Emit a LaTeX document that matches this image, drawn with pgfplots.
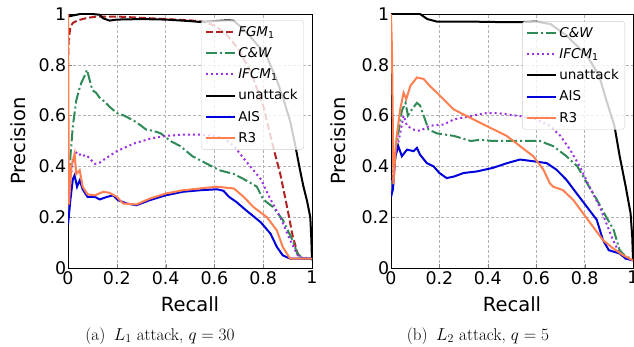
\documentclass[border=0pt]{standalone}
\usepackage{fontspec}
\setmainfont{DejaVu Sans}
\newfontfamily\capfont{Latin Modern Roman}
\usepackage{pgfplots}
\pgfplotsset{compat=1.18}
\definecolor{cfgm}{HTML}{B22222}
\definecolor{ccw}{HTML}{2E8B57}
\definecolor{cifcm}{HTML}{9B30E6}
\definecolor{cais}{HTML}{0000DD}
\definecolor{cr3}{HTML}{FF7F50}
\pgfplotsset{
  myax/.style={
    scale only axis, height=254pt,
    xmin=0,xmax=1,ymin=0,ymax=1,
    xtick={0,0.2,0.4,0.6,0.8,1}, ytick={0,0.2,0.4,0.6,0.8,1},
    xticklabels={0,0.2,0.4,0.6,0.8,1}, yticklabels={0,0.2,0.4,0.6,0.8,1},
    tick align=inside, tick pos=left,
    major tick length=4pt,
    /pgf/number format/assume math mode=true,
    ticklabel style={font=\fontsize{17.4}{18}\selectfont},
    yticklabel style={inner xsep=1.5pt},
    xticklabel style={inner ysep=3pt},
    grid=major,
    major grid style={gray!60, dash pattern=on 3pt off 2pt, line width=0.5pt},
    axis line style={line width=0.7pt},
    label style={font=\fontsize{19.5}{20}\selectfont},
    xlabel=Recall, ylabel=Precision,
    xlabel style={at={(axis description cs:0.5,-0.144)}, anchor=center},
    legend style={anchor=north east, draw=black!20, rounded corners=3pt,
      fill=white, fill opacity=0.8, text opacity=1, draw opacity=1,
      font=\fontsize{13.5}{15}\selectfont, row sep=5.6pt, inner xsep=4pt, inner ysep=4pt,
      cells={anchor=west}},
    legend image code/.code={\draw[##1] (0pt,0pt) -- (29pt,0pt);},
    legend cell align=left,
  },
  lfgm/.style={cfgm, line width=2pt, dash pattern=on 7pt off 3pt},
  lcw/.style={ccw, line width=2pt, dash pattern=on 11pt off 3pt on 2pt off 3pt},
  lifcm/.style={cifcm, line width=2pt, dash pattern=on 2pt off 3pt},
  lun/.style={black, line width=2pt},
  lais/.style={cais, line width=2pt},
  lr3/.style={cr3, line width=2pt},
}
\begin{document}
\begin{tikzpicture}
\useasboundingbox (0,0) rectangle (634pt,347pt);
\begin{axis}[myax, at={(68pt,79pt)}, anchor=south west, width=244pt,
  ylabel style={at={(axis description cs:-0.205,0.5)}, anchor=center},
  legend style={at={(axis description cs:0.967,0.976)}}]
\addplot[lfgm] coordinates {(0,0.8)(0.003,0.9)(0.01,0.95)(0.02,0.965)(0.04,0.975)(0.08,0.985)(0.12,0.99)(0.2,0.99)(0.3,0.985)(0.4,0.98)(0.5,0.975)(0.55,0.97)(0.6,0.955)(0.65,0.92)(0.7,0.86)(0.75,0.77)(0.8,0.64)(0.84,0.48)(0.87,0.37)(0.9,0.23)(0.92,0.13)(0.94,0.06)(0.955,0.037)(1,0.037)};
\addlegendentry{\textit{FGM}\textsubscript{1}}
\addplot[lcw] coordinates {(0,0.2)(0.005,0.35)(0.01,0.44)(0.02,0.56)(0.034,0.66)(0.045,0.70)(0.055,0.73)(0.065,0.75)(0.078,0.78)(0.086,0.75)(0.1,0.70)(0.115,0.69)(0.13,0.67)(0.15,0.655)(0.17,0.635)(0.2,0.61)(0.23,0.60)(0.27,0.58)(0.3,0.56)(0.32,0.545)(0.35,0.54)(0.38,0.53)(0.42,0.50)(0.46,0.48)(0.51,0.44)(0.57,0.41)(0.62,0.385)(0.68,0.37)(0.73,0.345)(0.774,0.32)(0.80,0.27)(0.84,0.24)(0.88,0.19)(0.92,0.11)(0.94,0.056)(0.966,0.037)(1,0.037)};
\addlegendentry{\textit{C\&W}}
\addplot[lifcm] coordinates {(0,0.2)(0.01,0.35)(0.02,0.42)(0.027,0.45)(0.04,0.457)(0.055,0.44)(0.075,0.445)(0.09,0.43)(0.11,0.41)(0.13,0.415)(0.16,0.435)(0.2,0.46)(0.27,0.49)(0.34,0.51)(0.40,0.52)(0.47,0.525)(0.54,0.525)(0.6,0.52)(0.64,0.51)(0.68,0.48)(0.73,0.42)(0.79,0.35)(0.83,0.27)(0.87,0.2)(0.91,0.11)(0.945,0.043)(1,0.037)};
\addlegendentry{\textit{IFCM}\textsubscript{1}}
\addplot[lun] coordinates {(0,0.99)(0.05,1.0)(0.1,1.0)(0.13,0.997)(0.144,0.983)(0.17,0.974)(0.2,0.978)(0.3,0.98)(0.4,0.978)(0.5,0.972)(0.55,0.968)(0.6,0.972)(0.65,0.975)(0.678,0.974)(0.72,0.94)(0.76,0.897)(0.815,0.832)(0.856,0.74)(0.884,0.661)(0.91,0.58)(0.93,0.49)(0.95,0.39)(0.965,0.32)(0.979,0.267)(0.993,0.2)(0.997,0.12)(1.0,0.03)};
\addlegendentry{unattack}
\addplot[lais] coordinates {(0,0.17)(0.01,0.27)(0.02,0.35)(0.027,0.365)(0.037,0.32)(0.048,0.345)(0.06,0.31)(0.08,0.28)(0.11,0.28)(0.13,0.27)(0.16,0.28)(0.185,0.286)(0.205,0.267)(0.24,0.254)(0.28,0.247)(0.335,0.267)(0.40,0.286)(0.47,0.30)(0.54,0.306)(0.61,0.31)(0.637,0.304)(0.66,0.28)(0.69,0.26)(0.73,0.227)(0.79,0.18)(0.83,0.135)(0.856,0.083)(0.88,0.05)(0.91,0.037)(1,0.037)};
\addlegendentry{AIS}
\addplot[lr3] coordinates {(0,1.0)(0.002,0.6)(0.004,0.25)(0.014,0.40)(0.027,0.45)(0.034,0.37)(0.048,0.385)(0.06,0.32)(0.08,0.29)(0.11,0.286)(0.144,0.30)(0.17,0.296)(0.2,0.28)(0.226,0.254)(0.28,0.25)(0.335,0.273)(0.40,0.293)(0.47,0.306)(0.54,0.313)(0.61,0.32)(0.68,0.313)(0.72,0.28)(0.76,0.24)(0.815,0.2)(0.856,0.148)(0.88,0.083)(0.91,0.037)(1,0.037)};
\addlegendentry{R3}
\end{axis}
\begin{axis}[myax, at={(391pt,79pt)}, anchor=south west, width=242pt,
  ylabel style={at={(axis description cs:-0.219,0.5)}, anchor=center},
  legend style={at={(axis description cs:0.967,0.972)}}]
\addplot[lcw] coordinates {(0,0.3)(0.01,0.38)(0.018,0.43)(0.03,0.53)(0.045,0.62)(0.06,0.65)(0.07,0.60)(0.087,0.625)(0.107,0.65)(0.12,0.64)(0.135,0.60)(0.155,0.545)(0.19,0.53)(0.26,0.52)(0.33,0.50)(0.37,0.505)(0.42,0.50)(0.48,0.50)(0.53,0.50)(0.615,0.50)(0.67,0.48)(0.725,0.44)(0.77,0.40)(0.81,0.334)(0.85,0.27)(0.89,0.20)(0.92,0.15)(0.945,0.07)(0.97,0.044)(1,0.037)};
\addlegendentry{\textit{C\&W}}
\addplot[lifcm] coordinates {(0,0.3)(0.01,0.38)(0.018,0.44)(0.038,0.53)(0.052,0.60)(0.066,0.56)(0.093,0.545)(0.12,0.54)(0.16,0.56)(0.217,0.565)(0.26,0.585)(0.327,0.598)(0.395,0.61)(0.437,0.61)(0.478,0.605)(0.533,0.598)(0.60,0.585)(0.657,0.56)(0.70,0.52)(0.74,0.466)(0.78,0.40)(0.82,0.32)(0.863,0.24)(0.89,0.176)(0.917,0.11)(0.945,0.057)(0.97,0.037)(1,0.03)};
\addlegendentry{\textit{IFCM}\textsubscript{1}}
\addplot[lun] coordinates {(0,1)(0.12,1)(0.15,0.98)(0.19,0.97)(0.33,0.97)(0.46,0.968)(0.53,0.968)(0.60,0.97)(0.66,0.96)(0.725,0.915)(0.81,0.836)(0.86,0.757)(0.89,0.66)(0.92,0.57)(0.925,0.55)(0.945,0.44)(0.97,0.32)(0.99,0.215)(0.997,0.12)(1.0,0.03)};
\addlegendentry{unattack}
\addplot[lais] coordinates {(0,0.28)(0.008,0.31)(0.018,0.44)(0.03,0.48)(0.045,0.44)(0.066,0.466)(0.093,0.46)(0.107,0.473)(0.12,0.446)(0.148,0.413)(0.176,0.40)(0.2,0.374)(0.23,0.354)(0.26,0.36)(0.30,0.374)(0.354,0.38)(0.42,0.394)(0.48,0.413)(0.533,0.427)(0.59,0.42)(0.643,0.413)(0.684,0.387)(0.725,0.347)(0.766,0.295)(0.81,0.24)(0.85,0.19)(0.876,0.11)(0.90,0.07)(0.945,0.057)(0.97,0.037)(1,0.03)};
\addlegendentry{AIS}
\addplot[lr3] coordinates {(0,1.0)(0.004,0.86)(0.008,0.53)(0.01,0.33)(0.022,0.506)(0.038,0.625)(0.052,0.69)(0.063,0.665)(0.08,0.717)(0.107,0.75)(0.135,0.744)(0.16,0.717)(0.19,0.69)(0.217,0.664)(0.258,0.625)(0.313,0.598)(0.368,0.572)(0.423,0.546)(0.478,0.52)(0.533,0.48)(0.588,0.44)(0.63,0.387)(0.656,0.334)(0.67,0.32)(0.71,0.307)(0.753,0.268)(0.794,0.215)(0.835,0.162)(0.876,0.11)(0.918,0.077)(0.96,0.05)(1,0.03)};
\addlegendentry{R3}
\end{axis}
\node[font=\capfont\fontsize{17}{19}\selectfont] at (160pt,11pt) {(a)\enspace$L_1$ attack, $q=30$};
\node[font=\capfont\fontsize{17}{19}\selectfont] at (478pt,11pt) {(b)\enspace$L_2$ attack, $q=5$};
\end{tikzpicture}
\end{document}
